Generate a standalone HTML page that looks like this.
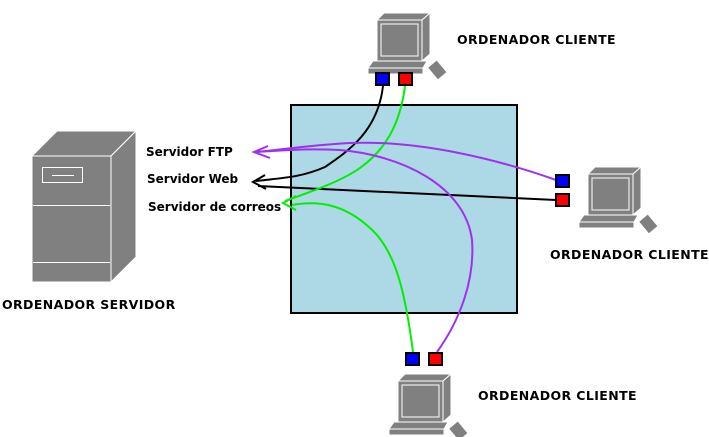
<!DOCTYPE html>
<html><head><style>
html,body{margin:0;padding:0;background:#fff;}
svg{display:block;}
text{font-family:"DejaVu Sans","Liberation Sans",sans-serif;font-weight:bold;font-size:12px;fill:#000;}
text.o{font-size:12.5px;letter-spacing:0.4px;}
</style></head><body>
<svg width="709" height="437" viewBox="0 0 709 437" xmlns="http://www.w3.org/2000/svg">
<defs>
<g id="pc">
  <polygon points="9,8 16,1 62,1 54,8" fill="#808080" stroke="#fff" stroke-width="1"/>
  <polygon points="54,8 62,1 62,42 54,49" fill="#808080" stroke="#fff" stroke-width="1"/>
  <rect x="9" y="8" width="45" height="41" fill="#808080" stroke="#fff" stroke-width="1"/>
  <rect x="13" y="12" width="37" height="32" fill="#808080" stroke="#fff" stroke-width="1"/>
  <polygon points="0,56 5,49 59,49 55,56" fill="#808080" stroke="#fff" stroke-width="1"/>
  <rect x="0" y="56" width="55" height="6" fill="#808080" stroke="#fff" stroke-width="1"/>
  <path d="M62,42 L66,48 L69,50" stroke="#fff" stroke-width="1" fill="none"/>
  <rect x="64" y="50" width="11" height="15" fill="#808080" transform="rotate(-40 70 58)"/>
</g>
</defs>
<polygon points="32,156 57,131 136,131 111,156" fill="#808080" stroke="#fff" stroke-width="1"/>
<polygon points="111,156 136,131 136,257 111,282" fill="#808080" stroke="#fff" stroke-width="1"/>
<rect x="32" y="156" width="79" height="126" fill="#808080" stroke="#fff" stroke-width="1"/>
<rect x="42.5" y="167.5" width="40" height="15" fill="none" stroke="#fff"/>
<line x1="52" y1="175.5" x2="74" y2="175.5" stroke="#fff"/>
<line x1="33" y1="205.5" x2="110" y2="205.5" stroke="#fff"/>
<line x1="33" y1="262.5" x2="110" y2="262.5" stroke="#fff"/>
<rect x="291" y="105" width="226" height="208" fill="#add8e6" stroke="#000" stroke-width="2"/>
<use href="#pc" x="368" y="12"/>
<use href="#pc" x="579" y="166"/>
<use href="#pc" x="389" y="373"/>
<g fill="none" stroke-width="2">
<path d="M383,86 C378,130 350,150 325,167 C300,178 280,178 256,181" stroke="#000"/>
<path d="M556,200 L258,186" stroke="#000"/>
<path d="M405,86 C400,125 385,150 360,168 C340,182 310,192 285,201" stroke="#00f000"/>
<path d="M413,352 C405,290 395,250 370,228 C345,205 320,200 292,205" stroke="#00f000"/>
<path d="M556,180 C500,160 420,140 350,143 C310,145 280,150 256,152" stroke="#a030f0"/>
<path d="M437,352 C460,320 475,280 472,240 C465,185 400,155 340,150 C300,148 280,151 256,152" stroke="#a030f0"/>
</g>
<g fill="none" stroke-width="2">
<path d="M268,146 L254,152 L270,158" stroke="#a030f0"/>
<path d="M265,175 L253,182 L266,189" stroke="#000"/>
<path d="M296,196 L283,203 L296,210" stroke="#00f000"/>
</g>
<g stroke="#000" stroke-width="2">
<rect x="376" y="73" width="13" height="12" fill="#0000ff"/>
<rect x="399" y="73" width="13" height="12" fill="#ff0000"/>
<rect x="556" y="175" width="13" height="12" fill="#0000ff"/>
<rect x="556" y="194" width="13" height="12" fill="#ff0000"/>
<rect x="406" y="353" width="13" height="12" fill="#0000ff"/>
<rect x="429" y="353" width="13" height="12" fill="#ff0000"/>
</g>
<text x="146" y="156">Servidor FTP</text>
<text x="147" y="183">Servidor Web</text>
<text x="148" y="211">Servidor de correos</text>
<text class="o" x="457" y="44">ORDENADOR CLIENTE</text>
<text class="o" x="550" y="259">ORDENADOR CLIENTE</text>
<text class="o" x="478" y="400">ORDENADOR CLIENTE</text>
<text class="o" x="2" y="309">ORDENADOR SERVIDOR</text>
</svg>
</body></html>
